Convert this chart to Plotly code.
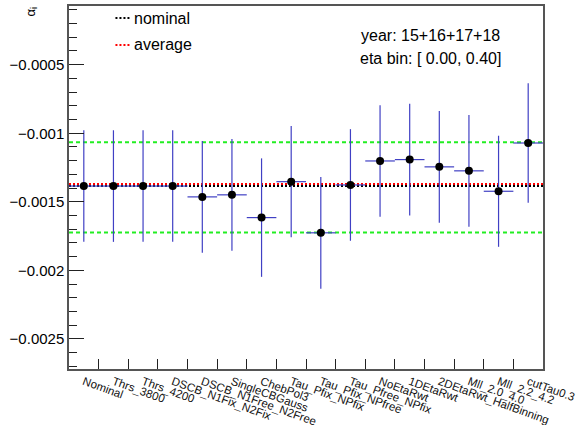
import plotly.graph_objects as go

categories = ["Nominal", "Thrs_3800", "Thrs_4200", "DSCB_N1Fix_N2Fix", "DSCB_N1Free_N2Free",
              "SingleCBGauss", "ChebPol3", "Tau_Pfix_NPfix", "Tau_Pfix_NPfree", "Tau_Pfree_NPfix",
              "NoEtaRwt", "1DEtaRwt", "2DEtaRwt_HalfBinning", "Mll_2.0_4.0", "Mll_2.2_4.2", "cutTau0.3"]
alpha_vals = [-0.001385, -0.001385, -0.001385, -0.001385, -0.001464, -0.001449, -0.001615, -0.001353,
              -0.001726, -0.001377, -0.001202, -0.001192, -0.001245, -0.001274, -0.001423, -0.001071]
alpha_errs = [0.000407, 0.000407, 0.000407, 0.000407, 0.000408, 0.000407, 0.000432, 0.000406,
              0.000407, 0.000407, 0.000407, 0.000407, 0.000407, 0.000408, 0.000405, 0.000436]
nominal_val = -0.001385
average_val = -0.001370
band_vals = [-0.001066, -0.001723]
yticks = [-0.0005, -0.001, -0.0015, -0.002, -0.0025]

idx = list(range(len(categories)))
xlo, xhi = -0.5, len(categories) - 0.5

fig = go.Figure()
for b in band_vals:
    fig.add_trace(go.Scatter(x=[xlo, xhi], y=[b, b], mode="lines",
                             line=dict(color="#22ee22", width=2, dash="4px,3px"),
                             showlegend=False, hoverinfo="skip"))
fig.add_trace(go.Scatter(x=[xlo, xhi], y=[average_val, average_val], mode="lines",
                         line=dict(color="#ff0000", width=2, dash="2px,2px"),
                         showlegend=False, hoverinfo="skip"))
fig.add_trace(go.Scatter(x=[xlo, xhi], y=[nominal_val, nominal_val], mode="lines",
                         line=dict(color="#000000", width=2, dash="2px,2px"),
                         showlegend=False, hoverinfo="skip"))
fig.add_trace(go.Scatter(
    x=idx, y=alpha_vals, mode="markers",
    marker=dict(color="black", size=8, symbol="circle"),
    error_y=dict(type="data", array=alpha_errs, color="#4040c4", thickness=1.2, width=0),
    error_x=dict(type="constant", value=0.5, color="#4040c4", thickness=1.2, width=0),
    showlegend=False))

# legend-like texts
fig.add_shape(type="line", xref="paper", yref="paper", x0=(115-68.5)/474.5, x1=(131-68.5)/474.5,
              y0=(369-18)/363, y1=(369-18)/363, line=dict(color="black", width=2, dash="2px,2px"))
fig.add_shape(type="line", xref="paper", yref="paper", x0=(115-68.5)/474.5, x1=(131-68.5)/474.5,
              y0=(369-45)/363, y1=(369-45)/363, line=dict(color="red", width=2, dash="2px,2px"))
fig.add_annotation(text="nominal", xref="paper", yref="paper", x=(132-68.5)/474.5, y=(369-18)/363,
                   xanchor="left", yanchor="middle", showarrow=False,
                   font=dict(family="Liberation Sans, Arial", size=16, color="black"))
fig.add_annotation(text="average", xref="paper", yref="paper", x=(132-68.5)/474.5, y=(369-45)/363,
                   xanchor="left", yanchor="middle", showarrow=False,
                   font=dict(family="Liberation Sans, Arial", size=16, color="black"))
fig.add_annotation(text="year: 15+16+17+18", xref="paper", yref="paper", x=(430-68.5)/474.5, y=(369-36)/363,
                   xanchor="center", yanchor="middle", showarrow=False,
                   font=dict(family="Liberation Sans, Arial", size=16, color="black"))
fig.add_annotation(text="eta bin: [ 0.00, 0.40]", xref="paper", yref="paper", x=(430-68.5)/474.5, y=(369-58)/363,
                   xanchor="center", yanchor="middle", showarrow=False,
                   font=dict(family="Liberation Sans, Arial", size=16, color="black"))
fig.add_annotation(text="α<sub>i</sub>", xref="paper", yref="paper", x=(31-68.5)/474.5, y=(369-12)/363,
                   xanchor="center", yanchor="middle", showarrow=False, textangle=-90,
                   font=dict(family="Liberation Sans, Arial", size=13, color="black"))

fig.update_layout(
    width=577, height=425,
    margin=dict(l=68.5, r=34, t=6, b=56, autoexpand=False),
    plot_bgcolor="white", paper_bgcolor="white",
    showlegend=False,
    font=dict(family="Liberation Sans, Arial", color="black"),
    xaxis=dict(range=[xlo, xhi], tickmode="array", tickvals=idx, ticktext=categories,
               tickangle=20, ticks="", showgrid=False, zeroline=False, ticklabeloverflow="allow",
               automargin=False,
               showline=True, linecolor="#555", linewidth=1.5, mirror=True,
               tickfont=dict(size=11.5, color="#111"),
               minor=dict(tickmode="array", tickvals=[i + 0.5 for i in idx[:-1]],
                          ticks="inside", ticklen=10, tickcolor="#222", tickwidth=1, showgrid=False)),
    yaxis=dict(range=[-0.002719, -0.000072], tickmode="array", tickvals=yticks,
               tickformat=".4~f", ticks="inside", ticklen=15, tickcolor="#222", automargin=False,
               showgrid=False, zeroline=False, showline=True, linecolor="#555", linewidth=1.5, mirror=True,
               tickfont=dict(size=15, color="black"),
               minor=dict(dtick=0.0001, ticks="inside", ticklen=8, tickcolor="#222", showgrid=False)),
)

fig.write_html("out.html")
